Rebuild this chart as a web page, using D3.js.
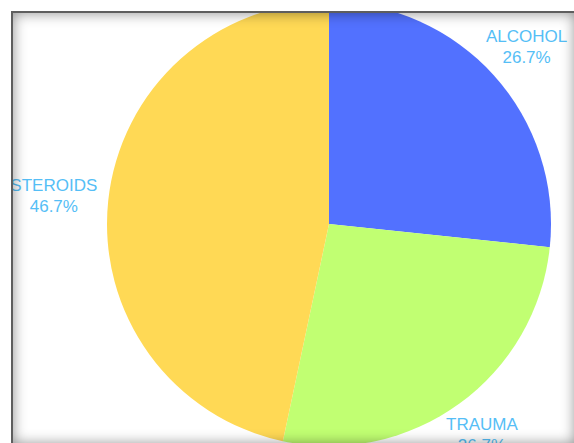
<!DOCTYPE html>
<html>
<head>
<meta charset="utf-8">
<script src="https://cdn.jsdelivr.net/npm/d3@7"></script>
<style>
  html, body { margin: 0; padding: 0; background: #fff; overflow: hidden; }
  #wrap { position: relative; width: 574px; height: 443px; overflow: hidden; }
  svg { position: absolute; left: 0; top: 0; }
  #frame {
    position: absolute; left: 11px; top: 11px; width: 562px; height: 431px;
    border-top: 2px solid #5e5e5e; border-left: 2px solid #5e5e5e;
    box-shadow: inset 0 0 14px rgba(0,0,0,0.45);
    pointer-events: none;
  }
</style>
</head>
<body>
<div id="wrap">
  <svg id="chart" width="574" height="443"></svg>
  <div id="frame"></div>
</div>
<script>
// Causes and case counts
const categories = ["ALCOHOL", "TRAUMA", "STEROIDS"];
const counts = [4, 4, 7];
const colors = ["#5271FF", "#C1FF72", "#FFD955"];

const W = 574, H = 443;
const cx = 329, cy = 224, radius = 222;
const labelOffset = 11;
const lineH = 21;

const svg = d3.select("#chart");
svg.append("defs").append("clipPath").attr("id", "box")
  .append("rect").attr("x", 13).attr("y", 13).attr("width", W - 13).attr("height", H - 13);

const g = svg.append("g").attr("clip-path", "url(#box)")
  .append("g").attr("transform", `translate(${cx},${cy})`);

const total = d3.sum(counts);
const pie = d3.pie().sort(null).value(d => d.v);
const arcs = pie(categories.map((c, i) => ({ c, v: counts[i], col: colors[i] })));
const arc = d3.arc().innerRadius(0).outerRadius(radius);

g.selectAll("path.slice").data(arcs).join("path")
  .attr("class", "slice")
  .attr("d", arc)
  .attr("fill", d => d.data.col);

// Two-line labels pushed just outside the rim along each slice's mid-angle
const fmt = d3.format(".1f");
const labels = g.selectAll("g.lbl").data(arcs).join("g").attr("class", "lbl");
labels.each(function(d) {
  const sel = d3.select(this);
  const t = sel.append("text")
    .attr("text-anchor", "middle")
    .attr("font-family", "'Liberation Sans', Arial, sans-serif")
    .attr("font-size", 17)
    .attr("fill", "#55BEF6");
  t.append("tspan").attr("x", 0).attr("y", -lineH / 2).attr("dy", "0.35em").text(d.data.c);
  t.append("tspan").attr("x", 0).attr("y", lineH / 2).attr("dy", "0.35em")
    .text(fmt(d.data.v / total * 100) + "%");
  const bb = t.node().getBBox();
  const a = (d.startAngle + d.endAngle) / 2;
  const dx = Math.sin(a), dy = -Math.cos(a);
  const px = (radius + labelOffset) * dx, py = (radius + labelOffset) * dy;
  const hw = bb.width / 2, hh = 22;
  const s = Math.min(Math.abs(dx) > 1e-6 ? hw / Math.abs(dx) : Infinity,
                     Math.abs(dy) > 1e-6 ? hh / Math.abs(dy) : Infinity);
  sel.attr("transform", `translate(${px + dx * s},${py + dy * s})`);
});
</script>
</body>
</html>
